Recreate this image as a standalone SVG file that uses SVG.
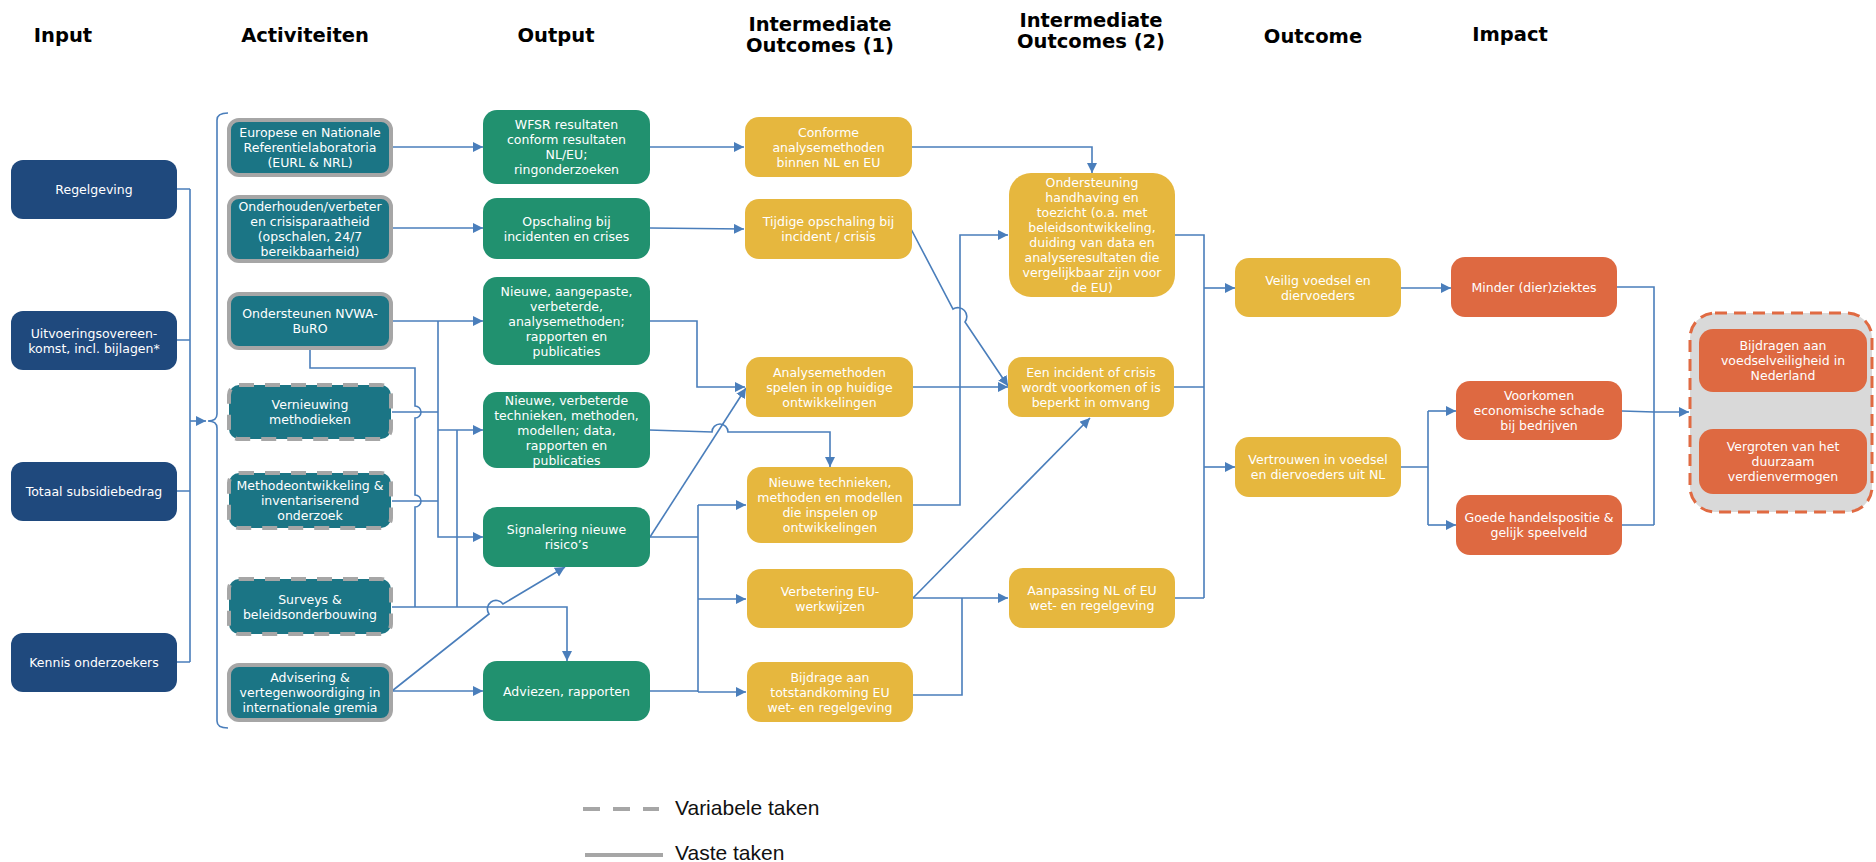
<svg xmlns="http://www.w3.org/2000/svg" width="1876" height="862" viewBox="0 0 1876 862">
  <style>
    .title { font-family: "DejaVu Sans", Verdana, sans-serif; font-weight: bold; font-size: 19.5px; fill: #000; text-anchor: middle; }
    .lbl { font-family: "DejaVu Sans", Verdana, sans-serif; font-size: 12.5px; fill: #fff; text-anchor: middle; }
    .legend { font-family: "Liberation Sans", Arial, sans-serif; font-size: 21px; fill: #111; }
    .input { fill: #1F497D; }
    .act { fill: #1B7585; stroke: #A6A6A6; stroke-width: 4; }
    .act.var { stroke-dasharray: 15 11; }
    .out { fill: #21916F; }
    .io { fill: #E6B73E; }
    .imp { fill: #DE6941; }
    .group { fill: #D9D9D9; stroke: #E06A42; stroke-width: 3; stroke-dasharray: 12 7; }
    .con { fill: none; stroke: #4A7EBB; stroke-width: 1.6; }
    .arr { marker-end: url(#head); }
  </style>
  <defs>
    <marker id="head" markerUnits="userSpaceOnUse" markerWidth="11" markerHeight="11" refX="10" refY="5" orient="auto">
      <path d="M0,0 L10,5 L0,10 Z" fill="#4A7EBB"/>
    </marker>
  </defs>

  <!-- column headings -->
  <g id="headings">
    <text class="title" x="63" y="42">Input</text>
    <text class="title" x="305" y="42">Activiteiten</text>
    <text class="title" x="556" y="42">Output</text>
    <text class="title" x="820" y="31">Intermediate<tspan x="820" dy="21">Outcomes (1)</tspan></text>
    <text class="title" x="1091" y="27">Intermediate<tspan x="1091" dy="21">Outcomes (2)</tspan></text>
    <text class="title" x="1313" y="43">Outcome</text>
    <text class="title" x="1510" y="41">Impact</text>
  </g>

  <!-- connectors -->
  <g id="connectors" class="con">
    <!-- inputs bus into the activity bracket -->
    <path d="M177,189 H190 M177,340 H190 M177,491 H190 M177,662 H190 M190,189 V662"/>
    <path class="arr" d="M190,421 H206"/>
    <path d="M228,113 Q217,113 217,120 V414 Q217,421 208,421 Q217,421 217,428 V721 Q217,728 228,728"/>

    <!-- activities to outputs -->
    <path class="arr" d="M393,147 H483"/>
    <path class="arr" d="M393,228 H483"/>
    <path class="arr" d="M393,321 H483"/>
    <path class="arr" d="M438,321 V537 H483"/>
    <path class="arr" d="M438,430 H483"/>
    <path d="M310,350 V368 H415 V406 A6,6 0 0 1 415,418 V495 A6,6 0 0 1 415,507 V607"/>
    <path d="M392,412 H438 M392,501 H438"/>
    <path d="M457,430 V607"/>
    <path class="arr" d="M392,607 H567 V661"/>
    <path class="arr" d="M392,691 H483"/>
    <path class="arr" d="M392,691 L489,614 A8.5,8.5 0 0 1 503,604 L565,567"/>

    <!-- outputs to intermediate outcomes (1) -->
    <path class="arr" d="M650,147 H744"/>
    <path class="arr" d="M650,228 L744,229"/>
    <path class="arr" d="M650,321 H697 V387 H745"/>
    <path class="arr" d="M649,430 L712,432 A8,8 0 0 1 728,432 H830 V467"/>
    <path class="arr" d="M650,537 L746,388"/>
    <path d="M650,537 H698 M698,505 V692 M650,691 H698"/>
    <path class="arr" d="M698,505 H746"/>
    <path class="arr" d="M698,599 H746"/>
    <path class="arr" d="M698,692 H746"/>

    <!-- intermediate outcomes (1) to (2) -->
    <path class="arr" d="M911,147 H1092 V173"/>
    <path class="arr" d="M911,229 L953,309 A9,9 0 0 1 965,322 L1008,386"/>
    <path class="arr" d="M912,387 H1008"/>
    <path class="arr" d="M913,505 H960 V235 H1008"/>
    <path class="arr" d="M913,598 L1090,418"/>
    <path class="arr" d="M913,598 H1008"/>
    <path d="M913,695 H962 V598"/>

    <!-- intermediate outcomes (2) to outcomes -->
    <path d="M1175,235 H1204 V598 M1174,387 H1204 M1175,598 H1204"/>
    <path class="arr" d="M1204,288 H1235"/>
    <path class="arr" d="M1204,467 H1235"/>

    <!-- outcomes to impact -->
    <path class="arr" d="M1401,288 H1451"/>
    <path d="M1401,467 H1428 M1428,411 V525"/>
    <path class="arr" d="M1428,411 H1456"/>
    <path class="arr" d="M1428,525 H1456"/>

    <!-- impact to overall goals -->
    <path d="M1617,287 H1654 V525 M1622,525 H1654"/>
    <path class="arr" d="M1622,411 L1654,412 H1689"/>
  </g>

  <!-- input nodes -->
  <g id="in-regelgeving"><rect class="input" x="11" y="160" width="166" height="59" rx="12"/><text class="lbl" x="94" y="194">Regelgeving</text></g>
  <g id="in-uitvoering"><rect class="input" x="11" y="311" width="166" height="59" rx="12"/><text class="lbl" x="94" y="337.5">Uitvoeringsovereen-<tspan x="94" dy="15">komst, incl. bijlagen*</tspan></text></g>
  <g id="in-subsidie"><rect class="input" x="11" y="462" width="166" height="59" rx="12"/><text class="lbl" x="94" y="496">Totaal subsidiebedrag</text></g>
  <g id="in-kennis"><rect class="input" x="11" y="633" width="166" height="59" rx="12"/><text class="lbl" x="94" y="667">Kennis onderzoekers</text></g>

  <!-- activity nodes -->
  <g id="act-eurl"><rect class="act" x="229" y="120" width="162" height="55" rx="10"/><text class="lbl" x="310" y="137">Europese en Nationale<tspan x="310" dy="15">Referentielaboratoria</tspan><tspan x="310" dy="15">(EURL &amp; NRL)</tspan></text></g>
  <g id="act-crisis"><rect class="act" x="229" y="197" width="162" height="64" rx="10"/><text class="lbl" x="310" y="211">Onderhouden/verbeter<tspan x="310" dy="15">en crisisparaatheid</tspan><tspan x="310" dy="15">(opschalen, 24/7</tspan><tspan x="310" dy="15">bereikbaarheid)</tspan></text></g>
  <g id="act-nvwa"><rect class="act" x="229" y="294" width="162" height="54" rx="10"/><text class="lbl" x="310" y="318">Ondersteunen NVWA-<tspan x="310" dy="15">BuRO</tspan></text></g>
  <g id="act-vernieuwing"><rect class="act var" x="229" y="385" width="162" height="54" rx="10"/><text class="lbl" x="310" y="409">Vernieuwing<tspan x="310" dy="15">methodieken</tspan></text></g>
  <g id="act-methode"><rect class="act var" x="229" y="473" width="162" height="55" rx="10"/><text class="lbl" x="310" y="490">Methodeontwikkeling &amp;<tspan x="310" dy="15">inventariserend</tspan><tspan x="310" dy="15">onderzoek</tspan></text></g>
  <g id="act-surveys"><rect class="act var" x="229" y="579" width="162" height="55" rx="10"/><text class="lbl" x="310" y="603.5">Surveys &amp;<tspan x="310" dy="15">beleidsonderbouwing</tspan></text></g>
  <g id="act-advisering"><rect class="act" x="229" y="665" width="162" height="55" rx="10"/><text class="lbl" x="310" y="682">Advisering &amp;<tspan x="310" dy="15">vertegenwoordiging in</tspan><tspan x="310" dy="15">internationale gremia</tspan></text></g>

  <!-- output nodes -->
  <g id="out-wfsr"><rect class="out" x="483" y="110" width="167" height="74" rx="14"/><text class="lbl" x="566.5" y="129">WFSR resultaten<tspan x="566.5" dy="15">conform resultaten</tspan><tspan x="566.5" dy="15">NL/EU;</tspan><tspan x="566.5" dy="15">ringonderzoeken</tspan></text></g>
  <g id="out-opschaling"><rect class="out" x="483" y="198" width="167" height="61" rx="14"/><text class="lbl" x="566.5" y="225.5">Opschaling bij<tspan x="566.5" dy="15">incidenten en crises</tspan></text></g>
  <g id="out-analysemethoden"><rect class="out" x="483" y="277" width="167" height="88" rx="14"/><text class="lbl" x="566.5" y="295.5">Nieuwe, aangepaste,<tspan x="566.5" dy="15">verbeterde,</tspan><tspan x="566.5" dy="15">analysemethoden;</tspan><tspan x="566.5" dy="15">rapporten en</tspan><tspan x="566.5" dy="15">publicaties</tspan></text></g>
  <g id="out-technieken"><rect class="out" x="483" y="392" width="167" height="76" rx="14"/><text class="lbl" x="566.5" y="404.5">Nieuwe, verbeterde<tspan x="566.5" dy="15">technieken, methoden,</tspan><tspan x="566.5" dy="15">modellen; data,</tspan><tspan x="566.5" dy="15">rapporten en</tspan><tspan x="566.5" dy="15">publicaties</tspan></text></g>
  <g id="out-signalering"><rect class="out" x="483" y="507" width="167" height="60" rx="14"/><text class="lbl" x="566.5" y="534">Signalering nieuwe<tspan x="566.5" dy="15">risico’s</tspan></text></g>
  <g id="out-adviezen"><rect class="out" x="483" y="661" width="167" height="60" rx="14"/><text class="lbl" x="566.5" y="695.5">Adviezen, rapporten</text></g>

  <!-- intermediate outcome (1) nodes -->
  <g id="io1-conforme"><rect class="io" x="745" y="117" width="167" height="60" rx="14"/><text class="lbl" x="828.5" y="136.5">Conforme<tspan x="828.5" dy="15">analysemethoden</tspan><tspan x="828.5" dy="15">binnen NL en EU</tspan></text></g>
  <g id="io1-tijdige"><rect class="io" x="745" y="199" width="167" height="60" rx="14"/><text class="lbl" x="828.5" y="226">Tijdige opschaling bij<tspan x="828.5" dy="15">incident / crisis</tspan></text></g>
  <g id="io1-analysemethoden"><rect class="io" x="746" y="357" width="167" height="60" rx="14"/><text class="lbl" x="829.5" y="376.5">Analysemethoden<tspan x="829.5" dy="15">spelen in op huidige</tspan><tspan x="829.5" dy="15">ontwikkelingen</tspan></text></g>
  <g id="io1-technieken"><rect class="io" x="747" y="467" width="166" height="76" rx="14"/><text class="lbl" x="830" y="487">Nieuwe technieken,<tspan x="830" dy="15">methoden en modellen</tspan><tspan x="830" dy="15">die inspelen op</tspan><tspan x="830" dy="15">ontwikkelingen</tspan></text></g>
  <g id="io1-werkwijzen"><rect class="io" x="747" y="569" width="166" height="59" rx="14"/><text class="lbl" x="830" y="595.5">Verbetering EU-<tspan x="830" dy="15">werkwijzen</tspan></text></g>
  <g id="io1-bijdrage"><rect class="io" x="747" y="662" width="166" height="60" rx="14"/><text class="lbl" x="830" y="681.5">Bijdrage aan<tspan x="830" dy="15">totstandkoming EU</tspan><tspan x="830" dy="15">wet- en regelgeving</tspan></text></g>

  <!-- intermediate outcome (2) nodes -->
  <g id="io2-ondersteuning"><rect class="io" x="1009" y="173" width="166" height="124" rx="22"/><text class="lbl" x="1092" y="187">Ondersteuning<tspan x="1092" dy="15">handhaving en</tspan><tspan x="1092" dy="15">toezicht (o.a. met</tspan><tspan x="1092" dy="15">beleidsontwikkeling,</tspan><tspan x="1092" dy="15">duiding van data en</tspan><tspan x="1092" dy="15">analyseresultaten die</tspan><tspan x="1092" dy="15">vergelijkbaar zijn voor</tspan><tspan x="1092" dy="15">de EU)</tspan></text></g>
  <g id="io2-incident"><rect class="io" x="1008" y="357" width="166" height="60" rx="14"/><text class="lbl" x="1091" y="376.5">Een incident of crisis<tspan x="1091" dy="15">wordt voorkomen of is</tspan><tspan x="1091" dy="15">beperkt in omvang</tspan></text></g>
  <g id="io2-aanpassing"><rect class="io" x="1009" y="568" width="166" height="60" rx="14"/><text class="lbl" x="1092" y="595">Aanpassing NL of EU<tspan x="1092" dy="15">wet- en regelgeving</tspan></text></g>

  <!-- outcome nodes -->
  <g id="oc-veilig"><rect class="io" x="1235" y="258" width="166" height="59" rx="14"/><text class="lbl" x="1318" y="284.5">Veilig voedsel en<tspan x="1318" dy="15">diervoeders</tspan></text></g>
  <g id="oc-vertrouwen"><rect class="io" x="1235" y="437" width="166" height="60" rx="14"/><text class="lbl" x="1318" y="464">Vertrouwen in voedsel<tspan x="1318" dy="15">en diervoeders uit NL</tspan></text></g>

  <!-- impact nodes -->
  <g id="im-ziektes"><rect class="imp" x="1451" y="257" width="166" height="60" rx="14"/><text class="lbl" x="1534" y="291.5">Minder (dier)ziektes</text></g>
  <g id="im-schade"><rect class="imp" x="1456" y="381" width="166" height="59" rx="14"/><text class="lbl" x="1539" y="400">Voorkomen<tspan x="1539" dy="15">economische schade</tspan><tspan x="1539" dy="15">bij bedrijven</tspan></text></g>
  <g id="im-handel"><rect class="imp" x="1456" y="495" width="166" height="60" rx="14"/><text class="lbl" x="1539" y="522">Goede handelspositie &amp;<tspan x="1539" dy="15">gelijk speelveld</tspan></text></g>

  <!-- overall goals -->
  <g id="goals">
    <rect class="group" x="1690" y="313" width="182" height="199" rx="25"/>
    <g id="goal-voedselveiligheid"><rect class="imp" x="1699" y="329" width="168" height="63" rx="14"/><text class="lbl" x="1783" y="350">Bijdragen aan<tspan x="1783" dy="15">voedselveiligheid in</tspan><tspan x="1783" dy="15">Nederland</tspan></text></g>
    <g id="goal-verdienvermogen"><rect class="imp" x="1699" y="429" width="168" height="65" rx="14"/><text class="lbl" x="1783" y="451">Vergroten van het<tspan x="1783" dy="15">duurzaam</tspan><tspan x="1783" dy="15">verdienvermogen</tspan></text></g>
  </g>

  <!-- legend -->
  <g id="legend">
    <path d="M583,809 H659" stroke="#A6A6A6" stroke-width="4" stroke-dasharray="17 13" fill="none"/>
    <text class="legend" x="675" y="815">Variabele taken</text>
    <path d="M585,855 H663" stroke="#A6A6A6" stroke-width="4" fill="none"/>
    <text class="legend" x="675" y="860">Vaste taken</text>
  </g>
</svg>
